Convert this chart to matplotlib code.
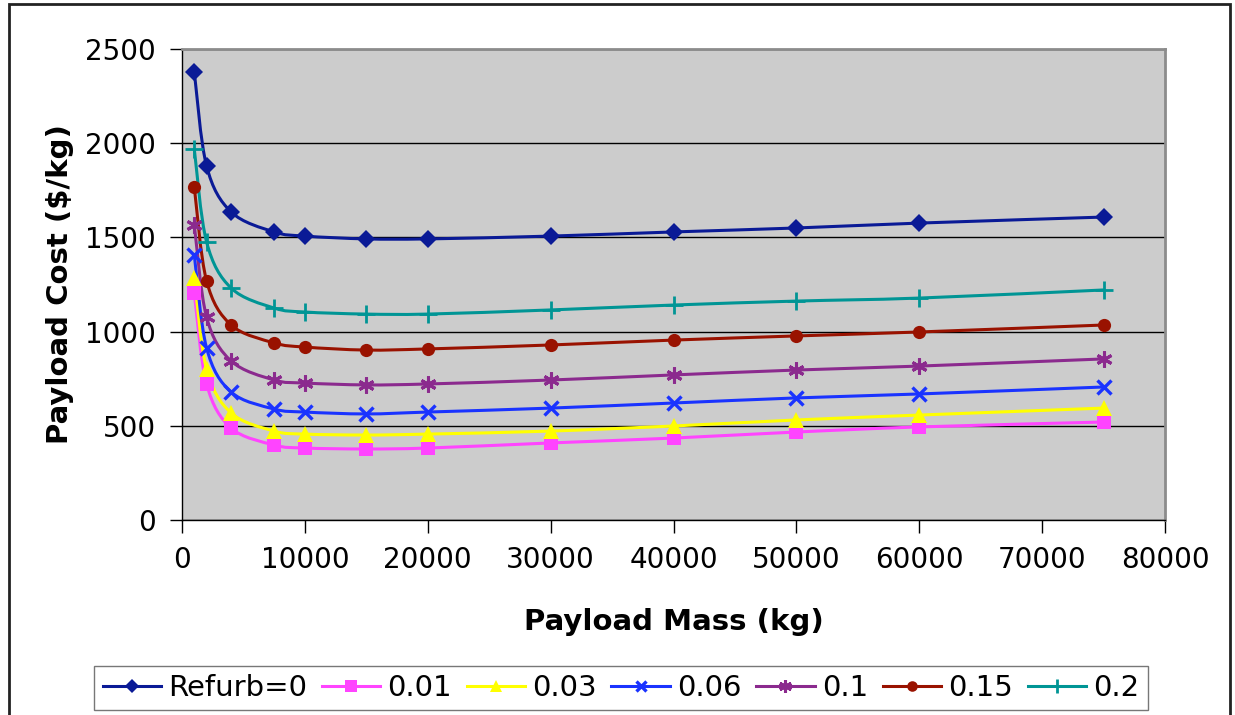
import matplotlib
matplotlib.use("Agg")
import matplotlib.pyplot as plt
import numpy as np
from matplotlib.lines import Line2D
from matplotlib.patches import PathPatch, Rectangle
from matplotlib.path import Path

# payload mass (kg) and payload cost ($/kg) for each refurbishment fraction
payload_mass = [1000, 2000, 4000, 7500, 10000, 15000, 20000, 30000, 40000, 50000, 60000, 75000]

cost_refurb_0 = [2378, 1879, 1635, 1529, 1507, 1492, 1492, 1507, 1529, 1550, 1576, 1608]
cost_refurb_001 = [1205, 722, 488, 398, 382, 377, 382, 409, 435, 467, 494, 520]
cost_refurb_003 = [1284, 801, 568, 472, 456, 451, 456, 472, 499, 531, 557, 594]
cost_refurb_006 = [1407, 913, 679, 589, 573, 563, 573, 594, 621, 648, 669, 706]
cost_refurb_01 = [1566, 1077, 844, 743, 727, 717, 722, 743, 770, 796, 817, 855]
cost_refurb_015 = [1767, 1269, 1035, 940, 918, 902, 908, 929, 955, 977, 998, 1035]
cost_refurb_02 = [1969, 1476, 1231, 1125, 1104, 1093, 1093, 1115, 1141, 1162, 1178, 1221]

series_labels = ["Refurb=0", "0.01", "0.03", "0.06", "0.1", "0.15", "0.2"]
series_values = [cost_refurb_0, cost_refurb_001, cost_refurb_003, cost_refurb_006,
                 cost_refurb_01, cost_refurb_015, cost_refurb_02]

colors = ["#0a1a96", "#ff44ff", "#ffff00", "#1a33ff", "#8b2a8e", "#991200", "#009595"]
markers = ["D", "s", "^", "x", (6, 2, 0), "o", "+"]
marker_sizes = [9.5, 10, 11, 9.5, 11.5, 9.5, 13]
marker_edges = [0, 0, 0, 2.4, 2.2, 0, 2.0]

W, H = 1235, 715


def smooth_path(xs, ys):
    # Excel-style smoothed line: cubic Bezier through the points
    pts = np.column_stack([xs, ys]).astype(float)
    n = len(pts)
    verts = [pts[0]]
    codes = [Path.MOVETO]
    for i in range(n - 1):
        p_prev = pts[i - 1] if i > 0 else pts[i]
        p_next2 = pts[i + 2] if i + 2 < n else pts[i + 1]
        c1 = pts[i] + (pts[i + 1] - p_prev) / 6.0
        c2 = pts[i + 1] - (p_next2 - pts[i]) / 6.0
        verts += [c1, c2, pts[i + 1]]
        codes += [Path.CURVE4] * 3
    return Path(verts, codes)


fig = plt.figure(figsize=(W / 100, H / 100), dpi=100)
ax = fig.add_axes([182 / W, 1 - 520 / H, (1165 - 182) / W, (520 - 49) / H])
ax.set_facecolor("#cccccc")

for values, color, marker, size, mew in zip(series_values, colors, markers, marker_sizes, marker_edges):
    ax.add_patch(PathPatch(smooth_path(payload_mass, values), fill=False,
                           edgecolor=color, linewidth=2.2, zorder=3))
    ax.plot(payload_mass, values, linestyle="none", marker=marker, markersize=size,
            color=color, markeredgewidth=mew, zorder=4)

ax.set_xlim(0, 80000)
ax.set_ylim(0, 2500)
ax.set_xticks(np.arange(0, 80001, 10000))
ax.set_yticks(np.arange(0, 2501, 500))
ax.yaxis.grid(True, color="black", linewidth=1.0)
ax.set_axisbelow(True)
ax.tick_params(axis="both", labelsize=20, length=9, width=1.0, direction="out")
ax.tick_params(axis="y", pad=10)
ax.tick_params(axis="x", pad=10)

for side in ["top", "right"]:
    ax.spines[side].set_color("#8c8c8c")
    ax.spines[side].set_linewidth(2.0)
for side in ["left", "bottom"]:
    ax.spines[side].set_color("black")
    ax.spines[side].set_linewidth(1.0)

ax.set_xlabel("Payload Mass (kg)", fontsize=21, fontweight="bold", labelpad=24)
ax.set_ylabel("Payload Cost ($/kg)", fontsize=21, fontweight="bold", labelpad=8)

handles = [Line2D([0], [0], color=c, marker=m, markersize=s * 0.8, markeredgewidth=e,
                  linewidth=2.2)
           for c, m, s, e in zip(colors, markers, marker_sizes, marker_edges)]
leg = fig.legend(handles, series_labels, loc="center", bbox_to_anchor=(621 / W, 1 - 688 / H),
                 ncol=7, fontsize=21, frameon=True, fancybox=False, handlelength=2.0,
                 handletextpad=0.25, columnspacing=0.5, borderpad=0.28, borderaxespad=0)
leg.get_frame().set_edgecolor("#555555")
leg.get_frame().set_linewidth(1.0)

# outer chart border
fig.patches.append(Rectangle((9 / W, -0.05), (1230 - 9) / W, 1.05 - 4 / H,
                             transform=fig.transFigure, fill=False,
                             edgecolor="#222222", linewidth=2.0, clip_on=False))

fig.savefig("out.png", dpi=100)
